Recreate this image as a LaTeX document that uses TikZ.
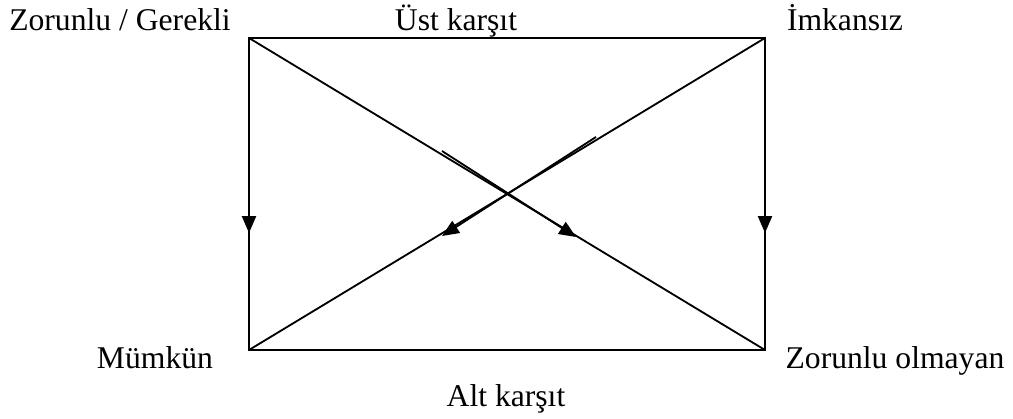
\documentclass[tikz,border=0pt]{standalone}
\usepackage{fontspec}
\setmainfont{Liberation Serif}
\usetikzlibrary{arrows.meta}

\begin{document}
\begin{tikzpicture}[x=0.025cm, y=-0.025cm, line width=1.3pt, >={Triangle[length=12pt,width=10pt]},
    lbl/.style={anchor=base, inner sep=0pt, font=\fontsize{22.5}{26}\selectfont}]

    \useasboundingbox (0,0) rectangle (1013,419);

    % ================= köşeler =================
    \coordinate (ZG) at (249,38);
    \coordinate (IM) at (765,38);
    \coordinate (MU) at (249,350);
    \coordinate (ZO) at (765,350);

    % ================= etiketler =================
    \node[lbl] (zg_lbl)  at (120,31)  {Zorunlu / Gerekli};
    \node[lbl] (ust_lbl) at (456,31)  {Üst karşıt};
    \node[lbl] (im_lbl)  at (845,31)  {İmkansız};
    \node[lbl] (mu_lbl)  at (155,369) {Mümkün};
    \node[lbl] (zo_lbl)  at (895,369) {Zorunlu olmayan};
    \node[lbl] (alt_lbl) at (506,406) {Alt karşıt};

    % ================= kare ve köşegenler =================
    \draw (ZG) -- (IM) -- (ZO) -- (MU) -- cycle;
    \draw (ZG) -- (ZO);
    \draw (IM) -- (MU);

    % ================= oklar =================
    \coordinate (a1) at (249,110);
    \coordinate (a1e) at (249,233);
    \coordinate (a2) at (765,110);
    \coordinate (a2e) at (765,233);
    \coordinate (a3) at (442,151);
    \coordinate (a3e) at (576,237);
    \coordinate (a4) at (596,137);
    \coordinate (a4e) at (442,236);

    \draw[->] (a1) -- (a1e);
    \draw[->] (a2) -- (a2e);
    \draw[->] (a3) -- (a3e);
    \draw[->] (a4) -- (a4e);

\end{tikzpicture}
\end{document}
